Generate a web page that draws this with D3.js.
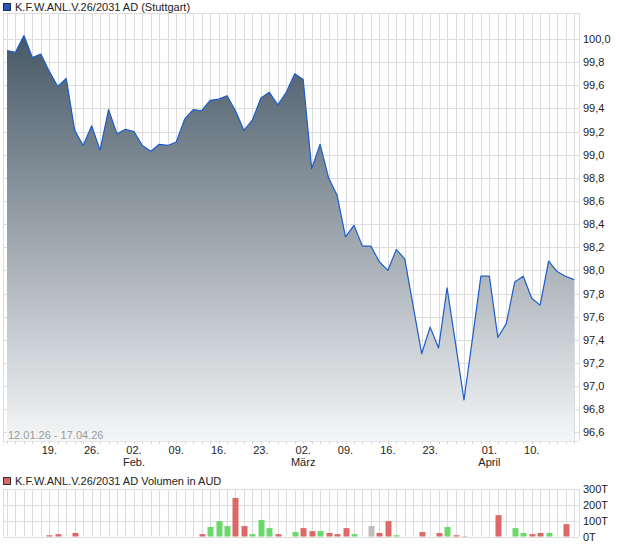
<!DOCTYPE html>
<html><head><meta charset="utf-8">
<script src="https://cdn.jsdelivr.net/npm/d3@7"></script>
<style>
body{margin:0;background:#fff}
svg{display:block}
text{font-family:"Liberation Sans",Arial,sans-serif;font-size:11px}
</style>
</head><body><svg id="c" width="620" height="546"></svg>
<script>
const dates = [
"2026-01-12","2026-01-13","2026-01-14","2026-01-15","2026-01-16",
"2026-01-19","2026-01-20","2026-01-21","2026-01-22","2026-01-23",
"2026-01-26","2026-01-27","2026-01-28","2026-01-29","2026-01-30",
"2026-02-02","2026-02-03","2026-02-04","2026-02-05","2026-02-06",
"2026-02-09","2026-02-10","2026-02-11","2026-02-12","2026-02-13",
"2026-02-16","2026-02-17","2026-02-18","2026-02-19","2026-02-20",
"2026-02-23","2026-02-24","2026-02-25","2026-02-26","2026-02-27",
"2026-03-02","2026-03-03","2026-03-04","2026-03-05","2026-03-06",
"2026-03-09","2026-03-10","2026-03-11","2026-03-12","2026-03-13",
"2026-03-16","2026-03-17","2026-03-18","2026-03-19","2026-03-20",
"2026-03-23","2026-03-24","2026-03-25","2026-03-26","2026-03-27",
"2026-03-30","2026-03-31","2026-04-01","2026-04-02",
"2026-04-07","2026-04-08","2026-04-09","2026-04-10",
"2026-04-13","2026-04-14","2026-04-15","2026-04-16","2026-04-17"];

const prices = [
99.90,99.885,100.03,99.84,99.87,
99.72,99.59,99.66,99.21,99.08,
99.25,99.04,99.39,99.18,99.22,
99.20,99.08,99.03,99.09,99.08,
99.11,99.31,99.39,99.38,99.47,
99.48,99.51,99.38,99.21,99.30,
99.49,99.54,99.43,99.54,99.70,
99.65,98.88,99.09,98.80,98.65,
98.29,98.39,98.21,98.21,98.075,
98.00,98.18,98.10,97.69,97.28,
97.51,97.33,97.85,97.37,96.88,
97.41,97.95,97.95,97.42,
97.54,97.90,97.95,97.76,
97.70,98.08,97.99,97.95,97.92];

// volume in thousands (T) AUD
const volumes = [
0,0,0,0,0,
8,15,0,22,0,
0,0,0,0,0,
0,0,0,0,0,
0,0,0,15,60,
97,66,243,66,15,
104,53,15,0,28,
53,34,34,22,15,
53,15,0,66,22,
97,8,0,0,28,
0,22,60,8,2,
0,0,0,135,
0,53,22,15,
22,22,0,78,0];

const priceTicks = [96.6,96.8,97.0,97.2,97.4,97.6,97.8,98.0,98.2,98.4,98.6,98.8,99.0,99.2,99.4,99.6,99.8,100.0];
const volumeTicks = [0,100,200,300];
const weekTicks = ["2026-01-19","2026-01-26","2026-02-02","2026-02-09","2026-02-16","2026-02-23",
  "2026-03-02","2026-03-09","2026-03-16","2026-03-23","2026-04-01","2026-04-10"];
const monthTicks = ["2026-02-02","2026-03-02","2026-04-01"];
const monthNames = ["Feb.","März","April"];

const title = "K.F.W.ANL.V.26/2031 AD (Stuttgart)";
const volTitle = "K.F.W.ANL.V.26/2031 AD Volumen in AUD";
const rangeText = "12.01.26 - 17.04.26";

const svg = d3.select("#c");
const L = 3, P0 = 7, P1 = 574, R = 579, T = 13, B = 441;
const grid = "#dcdcdc";

const x = d3.scalePoint().domain(dates).range([P0, P1]);
const y = d3.scaleLinear().domain([96.6, 100.0]).range([432.4, 39]);

// title
svg.append("rect").attr("x",3.5).attr("y",3.5).attr("width",7).attr("height",7)
  .attr("fill","#2358b8").attr("stroke","#1b2b4b");
svg.append("text").attr("x",15).attr("y",11).attr("fill","#222").text(title);

// grid
const g = svg.append("g");
g.selectAll("line.h").data(priceTicks).join("line")
  .attr("x1",L).attr("x2",R).attr("y1",d=>Math.round(y(d))+0.5).attr("y2",d=>Math.round(y(d))+0.5)
  .attr("stroke",grid);
g.selectAll("line.v").data(dates).join("line")
  .attr("x1",d=>Math.round(x(d))+0.5).attr("x2",d=>Math.round(x(d))+0.5).attr("y1",T).attr("y2",B)
  .attr("stroke",grid);
g.append("line").attr("x1",L).attr("x2",R).attr("y1",T+0.5).attr("y2",T+0.5).attr("stroke",grid);
g.append("line").attr("x1",L+0.5).attr("x2",L+0.5).attr("y1",T).attr("y2",B+2).attr("stroke",grid);
g.append("line").attr("x1",R+0.5).attr("x2",R+0.5).attr("y1",T).attr("y2",B).attr("stroke",grid);
g.append("line").attr("x1",L).attr("x2",R).attr("y1",B+0.5).attr("y2",B+0.5).attr("stroke","#e6e6e6");

// area gradient
const defs = svg.append("defs");
const grad = defs.append("linearGradient").attr("id","ag")
  .attr("gradientUnits","userSpaceOnUse").attr("x1",0).attr("x2",0).attr("y1",36).attr("y2",B);
grad.append("stop").attr("offset",0).attr("stop-color","#465866");
grad.append("stop").attr("offset",1).attr("stop-color","#f5f6f7");

const area = d3.area().x((d,i)=>x(dates[i])).y0(B).y1(d=>y(d));
svg.append("path").datum(prices).attr("d",area).attr("fill","url(#ag)");
const line = d3.line().x((d,i)=>x(dates[i])).y(d=>y(d));
svg.append("path").datum(prices).attr("d",line).attr("fill","none")
  .attr("stroke","#1c5ccc").attr("stroke-width",1.2).attr("stroke-linejoin","round");

// bottom tick marks
svg.selectAll("line.bt").data(dates).join("line")
  .attr("x1",d=>Math.round(x(d))+0.5).attr("x2",d=>Math.round(x(d))+0.5).attr("y1",B).attr("y2",B+3)
  .attr("stroke","#d8d8d8");

// range text
svg.append("text").attr("x",8).attr("y",439).attr("fill","#9a9a9a").text(rangeText);

// y labels
svg.selectAll("text.yl").data(priceTicks).join("text")
  .attr("x",583).attr("y",d=>y(d)+4).attr("fill","#222")
  .text(d=>d.toFixed(1).replace(".",","));

// x labels
svg.selectAll("text.xl").data(weekTicks).join("text")
  .attr("x",d=>x(d)).attr("y",454).attr("text-anchor","middle").attr("fill","#222")
  .text(d=>d.slice(8)+".");
svg.selectAll("text.ml").data(monthTicks).join("text")
  .attr("x",d=>x(d)).attr("y",466).attr("text-anchor","middle").attr("fill","#222")
  .text((d,i)=>monthNames[i]);

// volume
const VT = 489, VB = 536.5;
const yv = d3.scaleLinear().domain([0,300]).range([VB, VT]);
svg.append("rect").attr("x",3.5).attr("y",477.5).attr("width",7).attr("height",7)
  .attr("fill","#dc6666").attr("stroke","#333");
svg.append("text").attr("x",15).attr("y",485).attr("fill","#222").text(volTitle);

const vg = svg.append("g");
vg.selectAll("line.h").data(volumeTicks).join("line")
  .attr("x1",L).attr("x2",R).attr("y1",d=>Math.round(yv(d))+0.5).attr("y2",d=>Math.round(yv(d))+0.5)
  .attr("stroke",grid);
vg.selectAll("line.v").data(dates).join("line")
  .attr("x1",d=>Math.round(x(d))+0.5).attr("x2",d=>Math.round(x(d))+0.5).attr("y1",VT).attr("y2",VB)
  .attr("stroke",grid);
vg.append("line").attr("x1",L+0.5).attr("x2",L+0.5).attr("y1",VT).attr("y2",VB).attr("stroke",grid);
vg.append("line").attr("x1",R+0.5).attr("x2",R+0.5).attr("y1",VT).attr("y2",VB).attr("stroke",grid);

function barColor(i){
  if (i === 0) return "#bdbdbd";
  if (prices[i] > prices[i-1]) return "#6ad86a";
  if (prices[i] < prices[i-1]) return "#dc6868";
  return "#bdbdbd";
}
const vdata = volumes.map((v,i)=>({v,i})).filter(d=>d.v>0);
svg.selectAll("rect.bar").data(vdata).join("rect")
  .attr("x",d=>Math.round(x(dates[d.i]))-2.5)
  .attr("width",6)
  .attr("y",d=>yv(d.v))
  .attr("height",d=>yv(0)-yv(d.v))
  .attr("fill",d=>barColor(d.i));

svg.selectAll("text.vl").data(volumeTicks).join("text")
  .attr("x",583).attr("y",d=>yv(d)+4).attr("fill","#222")
  .text(d=>d+"T");
</script>
</body></html>
